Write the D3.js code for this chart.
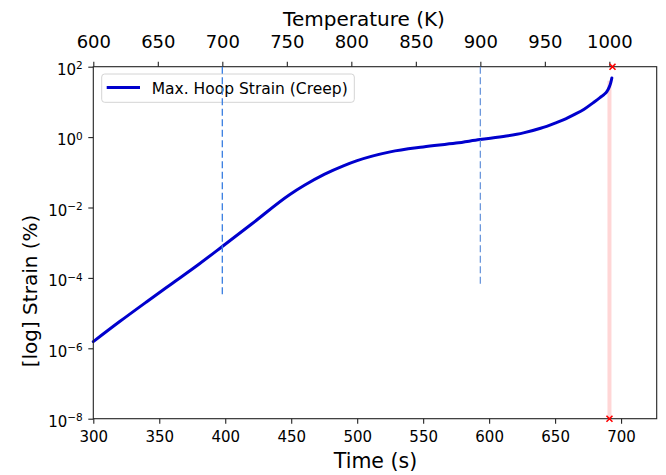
<!DOCTYPE html>
<html>
<head>
<meta charset="utf-8">
<script src="https://cdn.jsdelivr.net/npm/d3@7"></script>
<style>
  body { margin: 0; background: #fff; }
  svg text { font-family: "DejaVu Sans", sans-serif; fill: #000; }
</style>
</head>
<body>
<div id="chart"></div>
<script>
/* DATA */
const timeS = [300, 320, 340, 360, 380, 398, 420, 449, 460, 475, 490, 500, 525, 550, 575, 593,
  613, 626, 639, 650, 658, 664, 672, 679, 684, 687, 689.2, 691, 692.2, 693];
const strainPct = [1.55e-6, 5.75e-6, 2.04e-5, 7.08e-5, 2.45e-4, 7.94e-4, 3.39e-3, 0.0234, 0.0427,
  0.0871, 0.155, 0.214, 0.380, 0.525, 0.676, 0.851, 1.07, 1.32, 1.78, 2.51, 3.31, 4.27, 6.17,
  9.55, 13.2, 16.2, 19.5, 26.3, 35.5, 47.9];

const guideTempK = [700, 900];
const guideBottomPct = [3.2e-5, 5.8e-5];
const guideColors = ["#3a7ee0", "#6c98dc"];

const failTimeS = 691.2;
const failTopPct = 40;
const markerTimeS = [693.5, 691.2];
const markerStrainPct = [100, 1e-8];

const timeTicks = [300, 350, 400, 450, 500, 550, 600, 650, 700];
const tempTicks = [600, 650, 700, 750, 800, 850, 900, 950, 1000];
const strainExp = [2, 0, -2, -4, -6, -8];
const legendLabel = "Max. Hoop Strain (Creep)";

/* LAYOUT */
const width = 666, height = 475;
const margin = { top: 66.7, right: 9.3, bottom: 56.3, left: 93.3 };

const svg = d3.select("#chart").append("svg")
  .attr("width", width)
  .attr("height", height);

// SCALES
const xScale = d3.scaleLinear()
  .domain([300, 727])
  .range([margin.left, width - margin.right]);

const tScale = d3.scaleLinear()
  .domain([600, 1036.7])
  .range([margin.left, width - margin.right]);

const yScale = d3.scaleLog()
  .domain([1e-8, 1e2])
  .range([height - margin.bottom, margin.top]);

const data = timeS.map((t, i) => ({ t, s: strainPct[i] }));

// failure band (under the curve)
svg.append("line")
  .attr("x1", xScale(failTimeS)).attr("x2", xScale(failTimeS))
  .attr("y1", yScale(failTopPct)).attr("y2", yScale(1e-8))
  .attr("stroke", "#ffd6d6")
  .attr("stroke-width", 4);

// strain curve
const line = d3.line()
  .x(d => xScale(d.t))
  .y(d => yScale(d.s))
  .curve(d3.curveMonotoneX);

svg.append("path")
  .datum(data)
  .attr("d", line)
  .attr("fill", "none")
  .attr("stroke", "#0000cd")
  .attr("stroke-width", 3)
  .attr("stroke-linecap", "round");

// AXES
const xAxis = d3.axisBottom(xScale)
  .tickValues(timeTicks)
  .tickFormat(d3.format("d"))
  .tickSize(5)
  .tickSizeOuter(0);

const gx = svg.append("g")
  .attr("transform", `translate(0, ${height - margin.bottom})`)
  .call(xAxis);
gx.selectAll("text")
  .attr("y", 23.5).attr("dy", 0)
  .attr("font-size", 15);

const tAxis = d3.axisTop(tScale)
  .tickValues(tempTicks)
  .tickFormat(d3.format("d"))
  .tickSize(5)
  .tickSizeOuter(0);

const gt = svg.append("g")
  .attr("transform", `translate(0, ${margin.top})`)
  .call(tAxis);
gt.selectAll("text")
  .attr("y", -18.4).attr("dy", 0)
  .attr("font-size", 18);

const yAxis = d3.axisLeft(yScale)
  .tickValues(strainExp.map(e => Math.pow(10, e)))
  .tickFormat("")
  .tickSize(5)
  .tickSizeOuter(0);

const gy = svg.append("g")
  .attr("transform", `translate(${margin.left}, 0)`)
  .call(yAxis);

gy.selectAll(".tick").each(function (d) {
  const e = Math.round(Math.log10(d));
  const txt = d3.select(this).append("text")
    .attr("x", -10.5)
    .attr("y", 7.8)
    .attr("text-anchor", "end")
    .attr("font-size", 15);
  txt.append("tspan").text("10");
  txt.append("tspan")
    .attr("dy", -5.6)
    .attr("font-size", 10.5)
    .text(e < 0 ? "\u2212" + (-e) : String(e));
});

[gx, gt, gy].forEach(g => {
  g.select(".domain").remove();
  g.selectAll(".tick line").attr("stroke", "#222").attr("stroke-width", 1.1);
});

// frame
svg.append("rect")
  .attr("x", margin.left)
  .attr("y", margin.top)
  .attr("width", width - margin.left - margin.right)
  .attr("height", height - margin.top - margin.bottom)
  .attr("fill", "none")
  .attr("stroke", "#222")
  .attr("stroke-width", 1.1);

// LEGEND
const legend = svg.append("g");
legend.append("rect")
  .attr("x", 101.7).attr("y", 74)
  .attr("width", 252.6).attr("height", 28.3)
  .attr("rx", 3)
  .attr("fill", "#fff").attr("fill-opacity", 0.8)
  .attr("stroke", "#d4d4d4");
legend.append("line")
  .attr("x1", 106.7).attr("x2", 140)
  .attr("y1", 87.5).attr("y2", 87.5)
  .attr("stroke", "#0000cd")
  .attr("stroke-width", 3);
legend.append("text")
  .attr("x", 151.7).attr("y", 93.5)
  .attr("font-size", 15.5)
  .text(legendLabel);

// temperature guides (twin axis, drawn on top)
svg.selectAll(".guide")
  .data(guideTempK)
  .join("line")
  .attr("class", "guide")
  .attr("x1", d => tScale(d)).attr("x2", d => tScale(d))
  .attr("y1", margin.top)
  .attr("y2", (d, i) => yScale(guideBottomPct[i]))
  .attr("stroke", (d, i) => guideColors[i])
  .attr("stroke-width", 1.3)
  .attr("stroke-dasharray", "7,3.5");

// failure markers
const sz = 3;
markerTimeS.forEach((t, i) => {
  const cx = xScale(t), cy = yScale(markerStrainPct[i]);
  svg.append("path")
    .attr("d", `M${cx - sz},${cy - sz}L${cx + sz},${cy + sz}M${cx - sz},${cy + sz}L${cx + sz},${cy - sz}`)
    .attr("stroke", "red")
    .attr("stroke-width", 1.6);
});

// TITLES
svg.append("text")
  .attr("x", 364).attr("y", 26)
  .attr("text-anchor", "middle")
  .attr("font-size", 20)
  .text("Temperature (K)");

svg.append("text")
  .attr("x", 375.5).attr("y", 467.5)
  .attr("text-anchor", "middle")
  .attr("font-size", 20.5)
  .text("Time (s)");

svg.append("text")
  .attr("transform", "translate(37, 291) rotate(-90)")
  .attr("text-anchor", "middle")
  .attr("font-size", 20)
  .text("[log] Strain (%)");
</script>
</body>
</html>
